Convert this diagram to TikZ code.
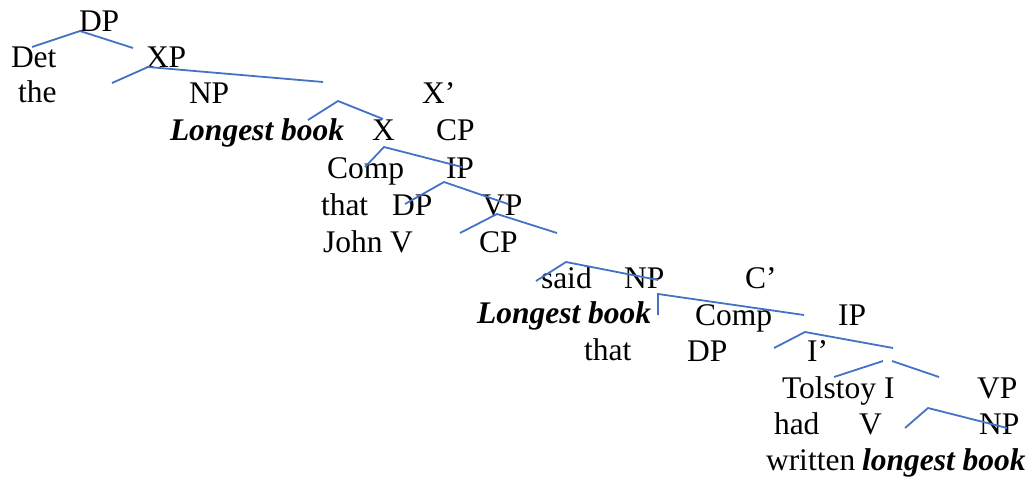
\documentclass[tikz,border=0pt]{standalone}
\usepackage{fontspec}
\setmainfont{Liberation Serif}
\definecolor{treeblue}{HTML}{4472C4}
\tikzset{
  lbl/.style={anchor=base west, inner sep=0pt, outer sep=0pt, font=\fontsize{31.5}{36}\selectfont},
  bi/.style={lbl, font=\fontsize{31.5}{36}\selectfont\bfseries\itshape},
  branch/.style={draw=treeblue, line width=1.8pt, line join=miter}
}
\begin{document}
\begin{tikzpicture}[x=1pt,y=-1pt]
\useasboundingbox (0,0) rectangle (1032,479);
% labels
\node[lbl] (dp1) at (79,31) {DP};
\node[lbl] (det) at (11,67) {Det};
\node[lbl] (xp) at (146,67) {XP};
\node[lbl] (the) at (18,102) {the};
\node[lbl] (np1) at (189,103) {NP};
\node[lbl] (xbar) at (422,103) {X’};
\node[bi] (lb1) at (170,140) {Longest book};
\node[lbl] (x) at (372,140) {X};
\node[lbl] (cp1) at (436,140) {CP};
\node[lbl] (comp1) at (327,178) {Comp};
\node[lbl] (ip1) at (446,178) {IP};
\node[lbl] (that1) at (321,215) {that};
\node[lbl] (dp2) at (392,215) {DP};
\node[lbl] (vp1) at (482,215) {VP};
\node[lbl] (john) at (323,252) {John};
\node[lbl] (v1) at (390,252) {V};
\node[lbl] (cp2) at (479,252) {CP};
\node[lbl] (said) at (541,288) {said};
\node[lbl] (np2) at (624,288) {NP};
\node[lbl] (cbar) at (745,288) {C’};
\node[bi] (lb2) at (477,323) {Longest book};
\node[lbl] (comp2) at (695,325) {Comp};
\node[lbl] (ip2) at (838,325) {IP};
\node[lbl] (that2) at (584,360) {that};
\node[lbl] (dp3) at (687,361) {DP};
\node[lbl] (ibar) at (807,361) {I’};
\node[lbl] (tolstoy) at (782,398) {Tolstoy};
\node[lbl] (i) at (884,398) {I};
\node[lbl] (vp2) at (977,398) {VP};
\node[lbl] (had) at (774,434) {had};
\node[lbl] (v2) at (859,434) {V};
\node[lbl] (np3) at (979,434) {NP};
\node[lbl] (written) at (766,470) {written};
\node[bi] (lb3) at (862,470) {longest book};
% branch points
\coordinate (a1) at (80,31);  \coordinate (a1l) at (32,47);  \coordinate (a1r) at (133,48);
\coordinate (a2) at (148,67); \coordinate (a2l) at (112,83); \coordinate (a2r) at (323,82);
\coordinate (a3) at (338,101); \coordinate (a3l) at (308,120); \coordinate (a3r) at (383,119);
\coordinate (a4) at (384,147); \coordinate (a4l) at (365,167); \coordinate (a4r) at (462,167);
\coordinate (a5) at (444,182); \coordinate (a5l) at (405,204); \coordinate (a5r) at (508,204);
\coordinate (a6) at (497,214); \coordinate (a6l) at (460,233); \coordinate (a6r) at (557,233);
\coordinate (a7) at (566,262); \coordinate (a7l) at (536,281); \coordinate (a7r) at (658,280);
\coordinate (a8) at (658,294); \coordinate (a8l) at (658,315); \coordinate (a8r) at (804,315);
\coordinate (a9) at (805,332); \coordinate (a9l) at (774,348); \coordinate (a9r) at (893,348);
\coordinate (b1) at (834,377); \coordinate (b2) at (883,361);
\coordinate (c1) at (892,361); \coordinate (c2) at (939,377);
\coordinate (a12) at (928,408); \coordinate (a12l) at (905,428); \coordinate (a12r) at (1007,428);
% branches
\draw[branch] (a1l) -- (a1) -- (a1r);
\draw[branch] (a2l) -- (a2) -- (a2r);
\draw[branch] (a3l) -- (a3) -- (a3r);
\draw[branch] (a4l) -- (a4) -- (a4r);
\draw[branch] (a5l) -- (a5) -- (a5r);
\draw[branch] (a6l) -- (a6) -- (a6r);
\draw[branch] (a7l) -- (a7) -- (a7r);
\draw[branch] (a8l) -- (a8) -- (a8r);
\draw[branch] (a9l) -- (a9) -- (a9r);
\draw[branch] (b1) -- (b2);
\draw[branch] (c1) -- (c2);
\draw[branch] (a12l) -- (a12) -- (a12r);
\end{tikzpicture}
\end{document}
